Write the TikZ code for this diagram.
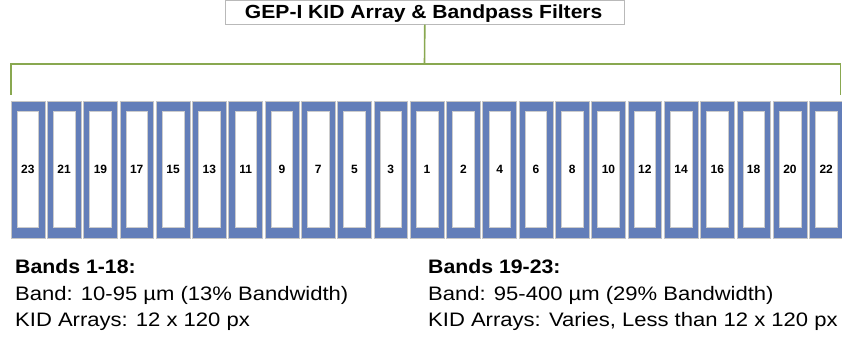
\documentclass[tikz,border=0pt]{standalone}
\usepackage{fontspec}
\setmainfont{Liberation Sans}
\newfontfamily\titlefont[FakeStretch=1.11]{Liberation Sans}
\newfontfamily\bodyfont[FakeStretch=1.13]{Liberation Sans}
\newfontfamily\headfont[FakeStretch=1.09]{Liberation Sans}
\definecolor{kidblue}{RGB}{99,126,185}
\definecolor{linegreen}{RGB}{137,168,80}
\begin{document}
\begin{tikzpicture}[x=1pt,y=-1pt,
  outerbox/.style={draw=gray!45, line width=0.5pt, fill=kidblue, minimum width=33.8pt, minimum height=136.7pt, inner sep=0pt, anchor=north west},
  innerbox/.style={draw=gray!40, line width=0.5pt, fill=white, minimum width=21.6pt, minimum height=116pt, inner sep=0pt, font=\fontsize{12}{14}\selectfont\bfseries},
  titlebox/.style={draw=gray!55, line width=0.6pt, fill=white, minimum width=399pt, minimum height=24pt, inner sep=0pt},
  conn/.style={draw=linegreen, line width=1.6pt},
  txt/.style={anchor=base west, inner sep=0pt, font=\bodyfont\fontsize{19.5}{22}\selectfont},
  head/.style={anchor=base west, inner sep=0pt, font=\headfont\fontsize{19.5}{22}\selectfont\bfseries}]
\useasboundingbox (0,0) rectangle (842,341);
\node[titlebox] (title) at (424.8,12.3) {};
\node[anchor=base, inner sep=0pt, font=\titlefont\fontsize{19}{21}\selectfont\bfseries] (titletext) at (423.7,18.3) {GEP-I KID Array \& Bandpass Filters};
\coordinate (jn) at (424.5,63.7);
\coordinate (lt) at (11,63.7);
\coordinate (rt) at (840.5,63.7);
\coordinate (lb) at (11,94.5);
\coordinate (rb) at (840.5,94.5);
\draw[conn] (title.south) -- (jn);
\draw[conn, line join=miter] (lb) -- (lt) -- (rt) -- (rb);
\foreach \n [count=\i from 0] in {23,21,19,17,15,13,11,9,7,5,3,1,2,4,6,8,10,12,14,16,18,20,22} {
  \node[outerbox] (o\n) at ({10.7+36.29*\i},101) {};
  \node[innerbox] (b\n) at (o\n.center) {\n};
}
\node[head] (h1) at (15,273.3) {Bands 1-18:};
\node[txt] (l1a) at (15,300) {Band: 10-95 µm (13\% Bandwidth)};
\node[txt] (l1b) at (15,326) {KID Arrays: 12 x 120 px};
\node[head] (h2) at (428,273.3) {Bands 19-23:};
\node[txt] (l2a) at (428,300) {Band: 95-400 µm (29\% Bandwidth)};
\node[txt] (l2b) at (428,326) {KID Arrays: Varies, Less than 12 x 120 px};
\end{tikzpicture}
\end{document}
